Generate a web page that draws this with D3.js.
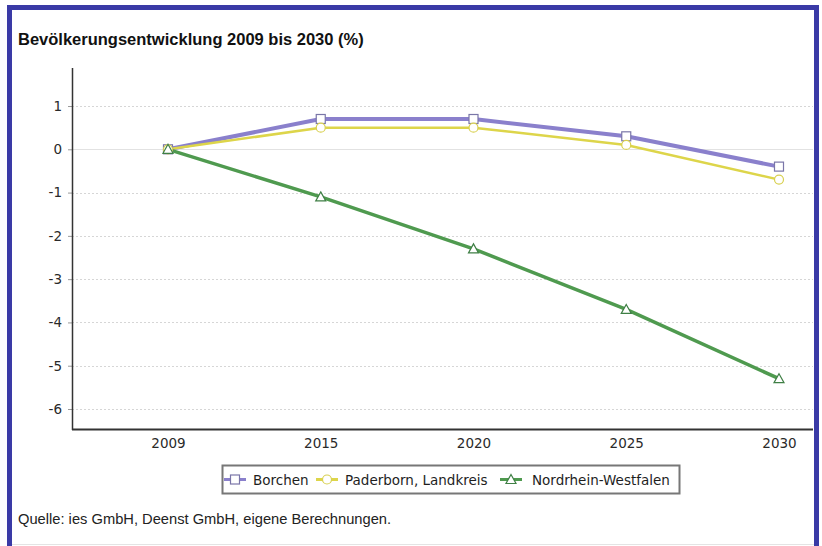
<!DOCTYPE html>
<html>
<head>
<meta charset="utf-8">
<script src="https://cdn.jsdelivr.net/npm/d3@7/dist/d3.min.js"></script>
<style>
  html, body { margin: 0; padding: 0; background: #fff; }
  svg { display: block; }
  .tick-label { font-family: "DejaVu Sans", sans-serif; font-size: 13.5px; fill: #2a2a2a; }
  .legend-label { font-family: "DejaVu Sans", sans-serif; font-size: 13.5px; fill: #1e1e1e; }
</style>
</head>
<body>
<div id="chart"></div>
<script>
(function() {
  "use strict";

  var WIDTH = 822;
  var HEIGHT = 546;

  // Data
  var years = ['2009', '2015', '2020', '2025', '2030'];
  var borchen = [0, 0.7, 0.7, 0.3, -0.4];
  var paderborn = [0, 0.5, 0.5, 0.1, -0.7];
  var nrw = [0, -1.1, -2.3, -3.7, -5.3];
  var yTicks = [1, 0, -1, -2, -3, -4, -5, -6];
  var seriesNames = ['Borchen', 'Paderborn, Landkreis', 'Nordrhein-Westfalen'];

  var series = [
    { name: seriesNames[0], values: borchen, color: '#8a80cc', width: 4, marker: 'square', markerStroke: '#7a76a8' },
    { name: seriesNames[1], values: paderborn, color: '#ddd54a', width: 2.5, marker: 'circle', markerStroke: '#d8d050' },
    { name: seriesNames[2], values: nrw, color: '#4f9a4f', width: 3.5, marker: 'triangle', markerStroke: '#3f7f45' }
  ];

  var svg = d3.select('#chart')
    .append('svg')
    .attr('width', WIDTH)
    .attr('height', HEIGHT);

  // Blue frame (top, left, right)
  svg.append('rect').attr('x', 0).attr('y', 0).attr('width', WIDTH).attr('height', HEIGHT).attr('fill', '#fff');
  svg.append('path')
    .attr('d', 'M9.5,546 V7.5 H816.5 V546')
    .attr('fill', 'none')
    .attr('stroke', '#3a3aa6')
    .attr('stroke-width', 5);
  svg.append('line')
    .attr('x1', 12).attr('x2', 814).attr('y1', 544.5).attr('y2', 544.5)
    .attr('stroke', '#e4e4e4');

  // Title
  svg.append('text')
    .attr('x', 18)
    .attr('y', 45)
    .attr('font-family', 'Liberation Sans, Arial, sans-serif')
    .attr('font-weight', 'bold')
    .attr('font-size', 16.5)
    .attr('fill', '#111')
    .text('Bevölkerungsentwicklung 2009 bis 2030 (%)');

  var plotLeft = 72;
  var plotRight = 813;
  var plotTop = 68;
  var plotBottom = 429;

  var x = d3.scalePoint()
    .domain(years)
    .range([168, 779]);

  var y = d3.scaleLinear()
    .domain([0, -6])
    .range([149.3, 409]);

  // Gridlines
  svg.append('g')
    .selectAll('line')
    .data(yTicks)
    .enter()
    .append('line')
    .attr('x1', plotLeft)
    .attr('x2', plotRight)
    .attr('y1', function(d) { return Math.round(y(d)) + 0.5; })
    .attr('y2', function(d) { return Math.round(y(d)) + 0.5; })
    .attr('stroke', function(d) { return d === 0 ? '#e2e2e2' : '#d6d6d6'; })
    .attr('stroke-dasharray', function(d) { return d === 0 ? null : '2,2'; });

  // Y axis (plain hyphen for negatives, like the original)
  var yAxis = d3.axisLeft(y)
    .tickValues(yTicks)
    .tickSize(4)
    .tickPadding(6)
    .tickFormat(function(d) { return String(d); });
  var yAxisG = svg.append('g')
    .attr('transform', 'translate(' + plotLeft + ',0)')
    .call(yAxis);
  yAxisG.select('.domain').remove();
  yAxisG.selectAll('.tick line').attr('stroke', '#999');
  yAxisG.selectAll('.tick text')
    .attr('class', 'tick-label')
    .attr('font-family', null)
    .attr('font-size', null);

  // X axis labels
  var xAxis = d3.axisBottom(x).tickSize(0).tickPadding(9);
  var xAxisG = svg.append('g')
    .attr('transform', 'translate(0,' + plotBottom + ')')
    .call(xAxis);
  xAxisG.select('.domain').remove();
  xAxisG.selectAll('.tick text')
    .attr('class', 'tick-label')
    .attr('font-family', null)
    .attr('font-size', null);

  // Axis lines
  svg.append('line')
    .attr('x1', plotLeft + 0.5).attr('x2', plotLeft + 0.5)
    .attr('y1', plotTop).attr('y2', plotBottom + 1)
    .attr('stroke', '#333').attr('stroke-width', 1.5);
  svg.append('line')
    .attr('x1', plotLeft).attr('x2', plotRight)
    .attr('y1', plotBottom + 0.5).attr('y2', plotBottom + 0.5)
    .attr('stroke', '#333').attr('stroke-width', 2);

  var line = d3.line()
    .x(function(d, i) { return x(years[i]); })
    .y(function(d) { return y(d); });

  function drawMarker(g, type, cx, cy, stroke) {
    if (type === 'square') {
      g.append('rect')
        .attr('x', cx - 4.5).attr('y', cy - 4.5)
        .attr('width', 9).attr('height', 9)
        .attr('fill', '#fff').attr('stroke', stroke).attr('stroke-width', 1.2);
    } else if (type === 'circle') {
      g.append('circle')
        .attr('cx', cx).attr('cy', cy).attr('r', 4.5)
        .attr('fill', '#fff').attr('stroke', stroke).attr('stroke-width', 1.2);
    } else {
      g.append('path')
        .attr('d', 'M' + cx + ',' + (cy - 5) + ' L' + (cx + 5) + ',' + (cy + 4) + ' L' + (cx - 5) + ',' + (cy + 4) + 'Z')
        .attr('fill', '#fff').attr('stroke', stroke).attr('stroke-width', 1.2);
    }
  }

  // Series lines
  series.forEach(function(s) {
    svg.append('path')
      .datum(s.values)
      .attr('d', line)
      .attr('fill', 'none')
      .attr('stroke', s.color)
      .attr('stroke-width', s.width)
      .attr('stroke-linejoin', 'round');
  });

  // Markers (drawn after all lines)
  series.forEach(function(s) {
    var g = svg.append('g');
    s.values.forEach(function(v, i) {
      drawMarker(g, s.marker, x(years[i]), y(v), s.markerStroke);
    });
  });

  // Legend
  var legend = svg.append('g');
  legend.append('rect')
    .attr('x', 222.5).attr('y', 465.5)
    .attr('width', 457).attr('height', 28)
    .attr('fill', '#fff')
    .attr('stroke', '#777')
    .attr('stroke-width', 2);

  var legendX = [224, 316, 500];
  var legendTextX = [253, 345, 532];
  series.forEach(function(s, i) {
    var lx = legendX[i];
    legend.append('line')
      .attr('x1', lx).attr('x2', lx + 22)
      .attr('y1', 479.5).attr('y2', 479.5)
      .attr('stroke', s.color)
      .attr('stroke-width', 3);
    drawMarker(legend, s.marker, lx + 11, 479.5, s.markerStroke);
    legend.append('text')
      .attr('class', 'legend-label')
      .attr('x', legendTextX[i])
      .attr('y', 484.5)
      .text(s.name);
  });

  // Source note
  svg.append('text')
    .attr('x', 18)
    .attr('y', 524)
    .attr('font-family', 'Liberation Sans, Arial, sans-serif')
    .attr('font-size', 14.7)
    .attr('fill', '#222')
    .text('Quelle: ies GmbH, Deenst GmbH, eigene Berechnungen.');
})();
</script>
</body>
</html>
